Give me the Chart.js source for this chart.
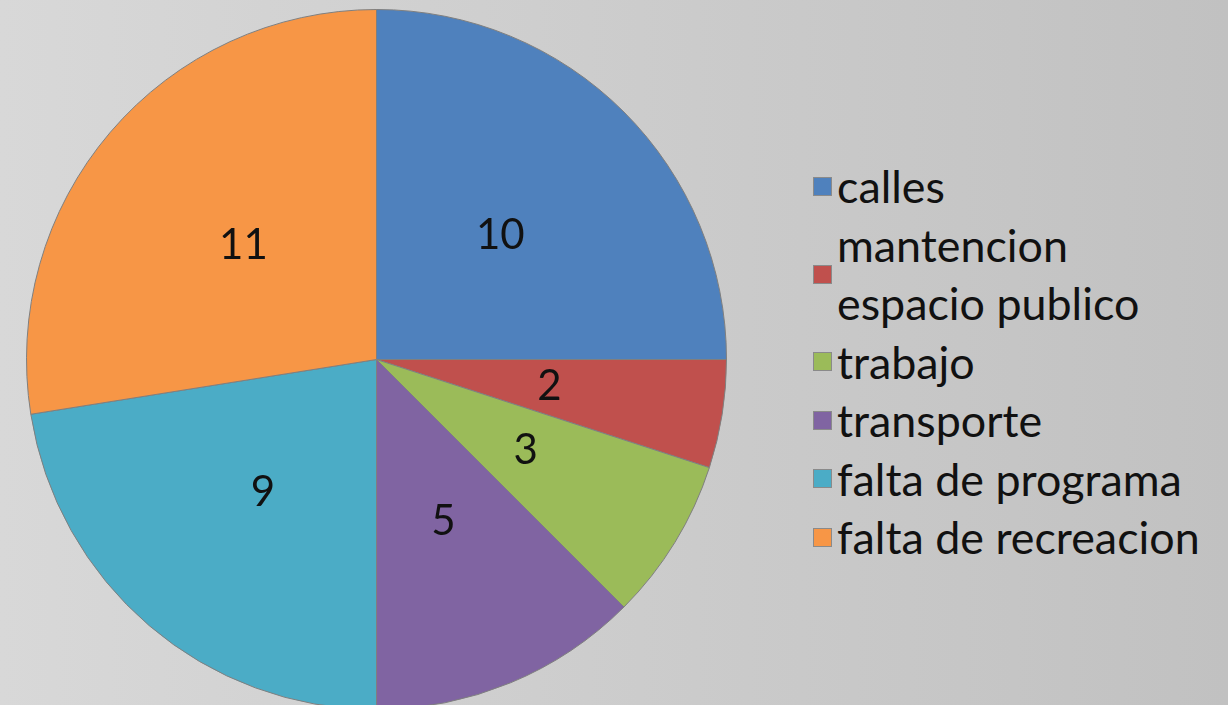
<!DOCTYPE html>
<html lang="es">
<head>
  <meta charset="UTF-8">
  <title>Problemas</title>
  <script src="https://cdn.jsdelivr.net/npm/chart.js"></script>
  <style>
    html, body { margin: 0; padding: 0; width: 1228px; height: 705px; overflow: hidden; }
    body { background: linear-gradient(to right, #d8d8d8, #c1c1c1); font-family: Lato, sans-serif; position: relative; }
    #pieChart { position: absolute; left: 26px; top: 9px; }
    #legend { position: absolute; left: 813px; top: 157px; color: #111; font-size: 44.8px; }
    .item { display: flex; align-items: center; }
    .box { width: 17px; height: 17px; border: 1px solid #8a8a8a; margin-right: 5px; flex: none; }
    .txt { line-height: 58.5px; width: 400px; }
  </style>
</head>
<body>
  <canvas id="pieChart" width="701" height="701"></canvas>
  <div id="legend"></div>

  <script>
    const labels = ['calles', 'mantencion espacio publico', 'trabajo', 'transporte', 'falta de programa', 'falta de recreacion'];
    const values = [10, 2, 3, 5, 9, 11];
    const colors = ['#4f81bd', '#c0504d', '#9bbb59', '#8064a2', '#4bacc6', '#f79646'];
    // leyenda: donde se corta el texto largo
    const legendLines = [['calles'], ['mantencion', 'espacio publico'], ['trabajo'], ['transporte'], ['falta de programa'], ['falta de recreacion']];

    const valueLabels = {
      id: 'valueLabels',
      afterDatasetsDraw(chart) {
        const ctx = chart.ctx;
        const meta = chart.getDatasetMeta(0);
        ctx.save();
        ctx.font = '42px Lato';
        ctx.fillStyle = '#111';
        ctx.textAlign = 'center';
        ctx.textBaseline = 'middle';
        meta.data.forEach((arc, i) => {
          const p = arc.tooltipPosition();
          ctx.fillText(String(values[i]), p.x, p.y);
        });
        ctx.restore();
      }
    };

    new Chart(document.getElementById('pieChart'), {
      type: 'pie',
      data: {
        labels: labels,
        datasets: [{
          data: values,
          backgroundColor: colors,
          borderColor: '#7f7f7f',
          borderWidth: 1
        }]
      },
      options: {
        responsive: false,
        animation: false,
        layout: { padding: 0 },
        plugins: {
          legend: { display: false },
          tooltip: { enabled: false }
        }
      },
      plugins: [valueLabels]
    });

    const legend = document.getElementById('legend');
    labels.forEach((lab, i) => {
      const item = document.createElement('div');
      item.className = 'item';
      const box = document.createElement('div');
      box.className = 'box';
      box.style.background = colors[i];
      const txt = document.createElement('div');
      txt.className = 'txt';
      txt.innerHTML = legendLines[i].join('<br>');
      item.appendChild(box);
      item.appendChild(txt);
      legend.appendChild(item);
    });
  </script>
</body>
</html>
